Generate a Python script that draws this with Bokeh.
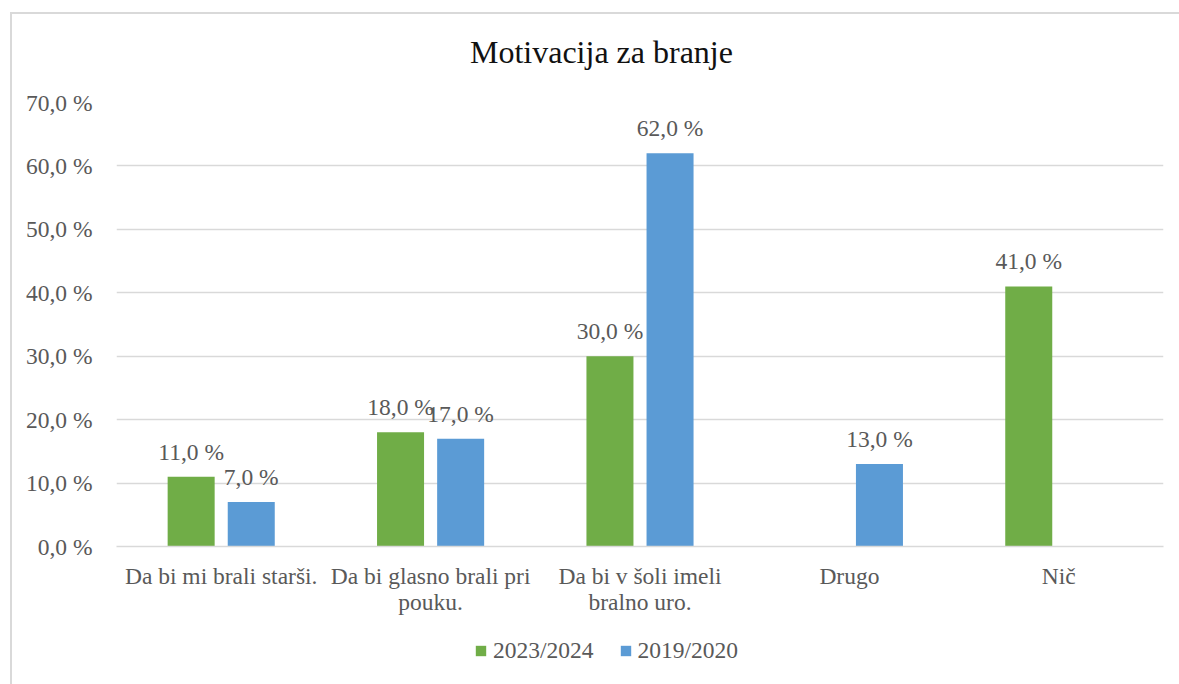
from bokeh.plotting import figure
from bokeh.models import ColumnDataSource, Range1d, FixedTicker, Legend, LegendItem, Label
from bokeh.layouts import column
from bokeh.core.properties import value
from bokeh.embed import file_html
from bokeh.resources import INLINE

title_text = "Motivacija za branje"
categories = ["Da bi mi brali starši.", "Da bi glasno brali pri\npouku.",
              "Da bi v šoli imeli\nbralno uro.", "Drugo", "Nič"]
series_names = ["2023/2024", "2019/2020"]
values_2023 = [11.0, 18.0, 30.0, None, 41.0]
values_2019 = [7.0, 17.0, 62.0, 13.0, None]
y_ticks = [0, 10, 20, 30, 40, 50, 60, 70]
colors = ["#70AD47", "#5B9BD5"]

FONT = "'Liberation Serif', 'Times New Roman', serif"
TXT = "#595959"
GRID = "#D9D9D9"
LBL = "23.5px"

W = 1167
H0 = 60
H1 = 551
H2 = 59
NC = len(categories)

# title strip (frame lines up with the main frame)
p0 = figure(width=W, height=H0, x_range=Range1d(0, NC), y_range=Range1d(0, 1),
            output_backend="svg", toolbar_location=None,
            x_axis_type=None, y_axis_type=None,
            min_border_left=0, min_border_right=0, min_border_top=0, min_border_bottom=0)
p0.outline_line_color = None
p0.grid.grid_line_color = None
p0.border_fill_color = "white"
p0.background_fill_color = "white"
p0.add_layout(Label(x=2.316, y=0.367, text=title_text, text_align="center",
                    text_baseline="middle", text_font=FONT, text_font_size="32px",
                    text_color="#111111"))

p = figure(width=W, height=H1, x_range=Range1d(0, NC), y_range=Range1d(0, 70),
           output_backend="svg", toolbar_location=None,
           min_border_left=104, min_border_right=16, min_border_top=28, min_border_bottom=79)
p.outline_line_color = None
p.background_fill_color = "white"
p.border_fill_color = "white"

# grid
p.xgrid.grid_line_color = None
p.ygrid.ticker = FixedTicker(ticks=y_ticks)
p.ygrid.grid_line_color = GRID
p.ygrid.grid_line_width = 1.5

# y axis
p.yaxis.ticker = FixedTicker(ticks=y_ticks)
p.yaxis.major_label_overrides = {t: f"{t:.1f}".replace(".", ",") + " %" for t in y_ticks}
p.yaxis.axis_line_color = None
p.yaxis.major_tick_line_color = None
p.yaxis.minor_tick_line_color = None
p.yaxis.major_label_standoff = 18
p.yaxis.major_label_text_font = FONT
p.yaxis.major_label_text_font_size = LBL
p.yaxis.major_label_text_color = TXT

# x axis
xt = [i + 0.5 for i in range(NC)]
p.xaxis.ticker = FixedTicker(ticks=xt)
p.xaxis.major_label_overrides = {x: c for x, c in zip(xt, categories)}
p.xaxis.axis_line_color = GRID
p.xaxis.axis_line_width = 1.5
p.xaxis.major_tick_line_color = None
p.xaxis.minor_tick_line_color = None
p.xaxis.major_label_standoff = 10
p.xaxis.major_label_text_font = FONT
p.xaxis.major_label_text_font_size = LBL
p.xaxis.major_label_text_color = TXT
p.xaxis.major_label_text_line_height = 1.0

# legend strip below the chart
p2 = figure(width=W, height=H2, x_range=Range1d(0, NC), y_range=Range1d(-1000, -999),
            output_backend="svg", toolbar_location=None,
            x_axis_type=None, y_axis_type=None,
            min_border_left=0, min_border_right=0, min_border_top=0, min_border_bottom=0)
p2.outline_line_color = None
p2.grid.grid_line_color = None
p2.border_fill_color = "white"
p2.background_fill_color = "white"

# bars
offsets = [-0.1435, 0.1435]
leg_r = []
for vals, off, col in zip([values_2023, values_2019], offsets, colors):
    xs, ys, labels = [], [], []
    for i, v in enumerate(vals):
        if v is None:
            continue
        xs.append(i + 0.5 + off)
        ys.append(v)
        labels.append(f"{v:.1f}".replace(".", ",") + " %")
    src = ColumnDataSource(dict(x=xs, top=ys, label=labels))
    p.vbar(x="x", top="top", width=0.2245, bottom=0, source=src,
           fill_color=col, line_color=col, line_width=0)
    p.text(x="x", y="top", text="label", source=src, text_align="center",
           text_baseline="alphabetic", y_offset=-25, text_font=value(FONT),
           text_font_size=LBL, text_color=TXT)
    # same series feeding the legend strip (hidden there)
    r2 = p2.vbar(x="x", top="top", width=0.2245, bottom=0, source=src,
                 fill_color=col, line_color=col, line_width=0)
    r2.visible = False
    leg_r.append(r2)

legend = Legend(items=[LegendItem(label=n, renderers=[r]) for n, r in zip(series_names, leg_r)],
                orientation="horizontal", location=(358, 20))
legend.label_text_font = FONT
legend.label_text_font_size = LBL
legend.label_text_color = TXT
legend.glyph_width = 13
legend.glyph_height = 13
legend.label_standoff = 6
legend.spacing = 25
legend.padding = 0
legend.margin = 0
legend.border_line_color = None
legend.background_fill_alpha = 0
p2.add_layout(legend, "center")

layout = column(p0, p, p2, spacing=0)
layout.styles = {"margin-left": "10px", "margin-top": "12px",
                 "border-left": f"2px solid {GRID}", "border-top": f"2px solid {GRID}"}

open("out.html", "w").write(file_html(layout, INLINE))
